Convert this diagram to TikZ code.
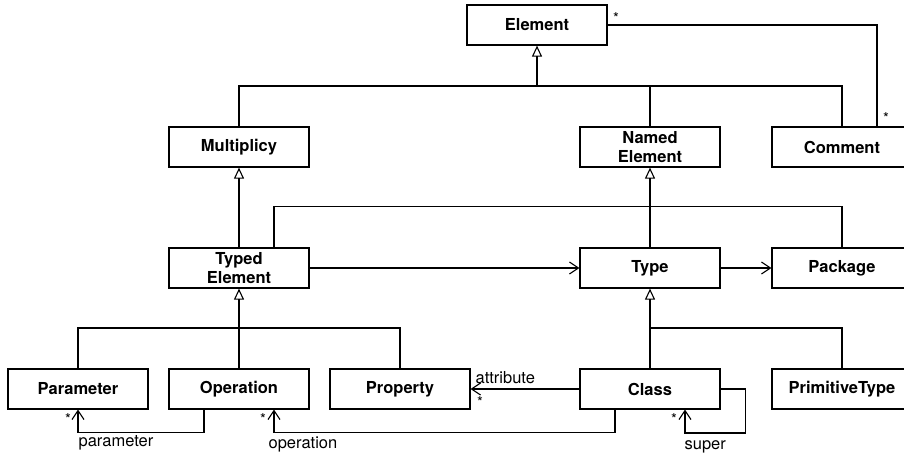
\documentclass[tikz,border=0pt]{standalone}
\usepackage{fontspec}
\setmainfont{TeX Gyre Heros}
\usetikzlibrary{arrows.meta}
\begin{document}
\begin{tikzpicture}[x=1pt,y=-1pt,
  line width=1.2pt,
  cls/.style={draw, rectangle, minimum width=140pt, minimum height=40pt,
    inner sep=0pt, align=center, font=\fontsize{16.5}{19.5}\selectfont\bfseries},
  gen/.style={-{Triangle[open,length=11pt,width=10pt,line width=1.1pt]}},
  assoc/.style={-{Straight Barb[length=9pt,width=12pt,line width=1.1pt]}},
  role/.style={font=\fontsize{16.5}{19}\selectfont, inner sep=0pt},
  mult/.style={font=\fontsize{15}{17}\selectfont, inner sep=0pt}]
\useasboundingbox (0,0) rectangle (904,455);
\clip (0,0) rectangle (904,455);
\fill[white] (0,0) rectangle (904,455);

% classes
\node[cls] (element)   at (537,25)  {Element};
\node[cls] (multi)     at (239,147) {Multiplicy};
\node[cls] (named)     at (650,147) {Named\\Element};
\node[cls] (comment)   at (842,147) {Comment};
\node[cls] (typed)     at (239,268) {Typed\\Element};
\node[cls] (type)      at (650,268) {Type};
\node[cls] (package)   at (842,268) {Package};
\node[cls] (parameter) at (78,389)  {Parameter};
\node[cls] (operation) at (239,389) {Operation};
\node[cls] (property)  at (400,389) {Property};
\node[cls] (class)     at (650,389) {Class};
\node[cls] (primitive) at (842,389) {PrimitiveType};

% junctions of the generalization trees
\coordinate (jtop) at (537,86);
\coordinate (jtyped) at (239,328);
\coordinate (jtype) at (650,328);

% Element specializations
\draw[gen] (jtop) -- (element.south);
\draw (multi.north) |- (comment.north |- jtop) -- (comment.north);
\draw (named.north) -- (named.north |- jtop);

% Element -- Comment association
\draw (element.east) -| ([xshift=35pt]comment.north);
\node[mult] at (616,18) {*};
\node[mult] at (886,118) {*};

% TypedElement, Type
\draw[gen] (typed.north) -- (multi.south);
\draw[gen] (type.north) -- (named.south);
\draw ([xshift=35pt]typed.north) -- ++(0,-41) -| (package.north);
\draw[assoc] (typed.east) -- (type.west);
\draw[assoc] (type.east) -- (package.west);

% TypedElement specializations
\draw[gen] (jtyped) -- (typed.south);
\draw (parameter.north) |- (property.north |- jtyped) -- (property.north);
\draw (operation.north) -- (jtyped);

% Type specializations
\draw[gen] (class.north) -- (type.south);
\draw (jtype) -| (primitive.north);

% attribute
\draw[assoc] (class.west) -- (property.east);
\node[role, anchor=base west] at (475,383) {attribute};
\node[mult] at (480,402) {*};

% operation
\draw[assoc] ([xshift=-35pt]class.south) -- ++(0,23) -| ([xshift=35pt]operation.south);
\node[mult] at (263,419) {*};
\node[role, anchor=base west] at (268,448) {operation};

% parameter
\draw[assoc] ([xshift=-35pt]operation.south) -- ++(0,23) -| (parameter.south);
\node[mult] at (68,419) {*};
\node[role, anchor=base west] at (78,446) {parameter};

% super
\draw[assoc] (class.east) -- ++(25,0) -- ++(0,44) -| ([xshift=35pt]class.south);
\node[mult] at (674,419) {*};
\node[role, anchor=base west] at (684,449) {super};
\end{tikzpicture}
\end{document}
